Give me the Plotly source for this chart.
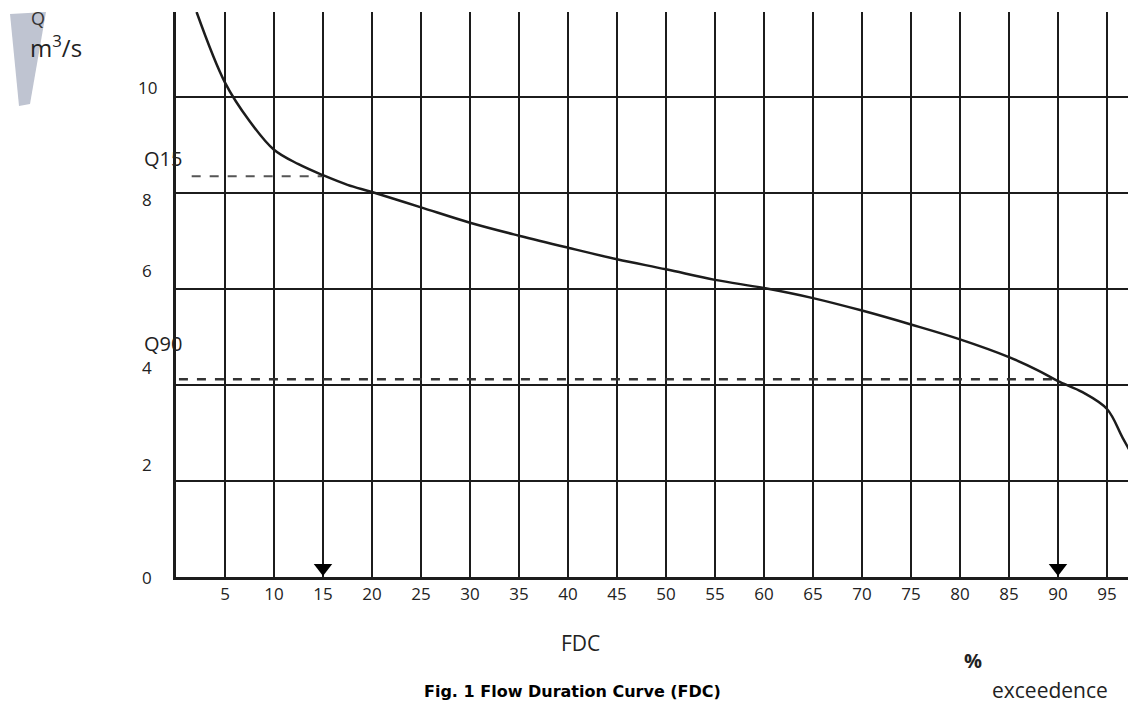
import plotly.graph_objects as go

# ---- data ----
exceedence_pct = [2.1, 5, 7.5, 10, 12.5, 15, 17.5, 20, 25, 30, 35, 40, 45, 50,
                  55, 60, 65, 70, 75, 80, 85, 88, 90, 92.5, 95, 96.6, 98]
flow_q = [11.77, 10.3, 9.5, 8.9, 8.6, 8.37, 8.17, 8.02, 7.70, 7.38, 7.11, 6.86,
          6.62, 6.41, 6.19, 6.02, 5.81, 5.55, 5.26, 4.95, 4.58, 4.3, 4.08, 3.85, 3.5,
          2.9, 2.38]
x_ticks = [5, 10, 15, 20, 25, 30, 35, 40, 45, 50, 55, 60, 65, 70, 75, 80, 85, 90, 95]
y_ticks = [0, 2, 4, 6, 8, 10]
y_tick_text = ["0", "2", "4", "6", "8", "10"]
q15_x, q15_val = 15, 8.35
q90_x, q90_val = 90, 4.12
dash_start = 1.6

# page is offset by the 8px body margin of the html page
OFF = 8
PAGE_W, PAGE_H = 1136, 704
PL, PT, PR, PB = 176, 12, 1136, 577       # plot area in page pixels
W, H = PAGE_W - OFF, PAGE_H - OFF
X_MAX = 97.96
Y_MAX = 11.77
INK = "#1c1c1c"
FONT = "Open Sans"

def px_x(px):
    return (px - PL) / (PR - PL)

def px_y(py):
    return (PB - py) / (PB - PT)

fig = go.Figure()

# dashed reference lines
fig.add_trace(go.Scatter(x=[dash_start, q15_x], y=[q15_val, q15_val], mode="lines",
                         line=dict(color="#555", width=2, dash="dash"),
                         hoverinfo="skip", showlegend=False))
fig.add_trace(go.Scatter(x=[0.3, q90_x], y=[q90_val, q90_val], mode="lines",
                         line=dict(color="#333", width=2.5, dash="dash"),
                         hoverinfo="skip", showlegend=False))

# flow duration curve
fig.add_trace(go.Scatter(x=exceedence_pct, y=flow_q, mode="lines",
                         line=dict(color=INK, width=2.5, shape="spline", smoothing=1.0),
                         showlegend=False))

# arrow heads at Q15 and Q90
fig.add_trace(go.Scatter(x=[q15_x, q90_x], y=[0.19, 0.19], mode="markers",
                         marker=dict(symbol="triangle-down", size=16, color="#000"),
                         hoverinfo="skip", showlegend=False))

# y tick labels with their original offsets
y_shifts = [0, 16, 17, 18, -7, 9]
annotations = []
for v, t, s in zip(y_ticks, y_tick_text, y_shifts):
    annotations.append(dict(x=px_x(147), xref="paper", y=v, yref="y", yshift=s,
                            text=t, showarrow=False, xanchor="center", yanchor="middle",
                            font=dict(family=FONT, size=17, color="#222")))

def label(px, py, text, size, family=FONT, color="#222"):
    return dict(x=px_x(px), xref="paper", y=px_y(py), yref="paper", text=text,
                showarrow=False, xanchor="center", yanchor="middle",
                font=dict(family=family, size=size, color=color))

annotations += [
    label(163, 158, "Q15", 20),
    label(163, 343, "Q90", 20),
    label(38, 18, "Q", 18, color="#333"),
    label(56, 47, "m<sup>3</sup>/s", 24),
    label(580, 643, "FDC", 21),
    label(973, 660, "<b>%</b>", 20),
    label(1050, 690, "exceedence", 21),
    dict(x=px_x(572), xref="paper", y=px_y(703), yref="paper",
         xanchor="center", yanchor="bottom",
         text="<b>Fig. 1 Flow Duration Curve (FDC)</b>",
         showarrow=False, font=dict(family="DejaVu Sans", size=16, color="#000")),
]

# grey scan shading behind the unit label
shapes = [dict(type="path", xref="paper", yref="paper", layer="below",
               path=(f"M {px_x(10)},{px_y(14)} L {px_x(46)},{px_y(12)} "
                     f"L {px_x(30)},{px_y(104)} L {px_x(19)},{px_y(106)} Z"),
               fillcolor="#bfc4d1", line=dict(width=0))]

fig.update_layout(
    width=W, height=H,
    margin=dict(l=PL - OFF, r=PAGE_W - PR, t=PT - OFF, b=PAGE_H - PB),
    paper_bgcolor="white", plot_bgcolor="white",
    annotations=annotations, shapes=shapes,
    xaxis=dict(range=[0, X_MAX], tickvals=x_ticks, showgrid=True, gridcolor=INK,
               gridwidth=2.2, showline=True, linecolor=INK, linewidth=2.5,
               zeroline=False, ticks="", ticklabelstandoff=0,
               tickfont=dict(family=FONT, size=17, color="#222"),
               fixedrange=True),
    yaxis=dict(range=[0, Y_MAX], tickvals=y_ticks, showticklabels=False,
               showgrid=True, gridcolor=INK, gridwidth=2.2, showline=True,
               linecolor=INK, linewidth=2.5, zeroline=False, ticks="", fixedrange=True),
)

fig.write_html("out.html")
